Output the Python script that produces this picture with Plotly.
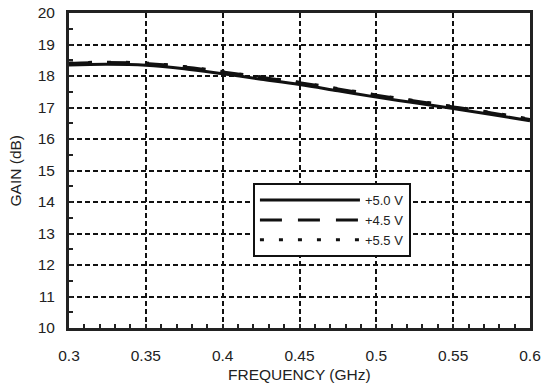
import plotly.graph_objects as go

freq = [0.30, 0.325, 0.35, 0.375, 0.40, 0.425, 0.45, 0.475, 0.50, 0.525, 0.55, 0.575, 0.60]
gain_50 = [18.35, 18.37, 18.34, 18.23, 18.07, 17.90, 17.73, 17.53, 17.33, 17.15, 16.97, 16.78, 16.58]
gain_45 = [18.40, 18.43, 18.40, 18.29, 18.13, 17.96, 17.79, 17.59, 17.39, 17.21, 17.02, 16.83, 16.62]
gain_55 = [18.41, 18.44, 18.41, 18.30, 18.14, 17.97, 17.80, 17.60, 17.40, 17.22, 17.03, 16.84, 16.63]

x_ticks = [0.3, 0.35, 0.4, 0.45, 0.5, 0.55, 0.6]
x_labels = ["0.3", "0.35", "0.4", "0.45", "0.5", "0.55", "0.6"]
y_ticks = list(range(10, 21))

fig = go.Figure()
fig.add_trace(go.Scatter(x=freq, y=gain_50, mode="lines", name="+5.0 V",
                         line=dict(color="#111", width=3, shape="spline")))
fig.add_trace(go.Scatter(x=freq, y=gain_45, mode="lines", name="+4.5 V",
                         line=dict(color="#111", width=3, dash="22px,16px", shape="spline")))
fig.add_trace(go.Scatter(x=freq, y=gain_55, mode="lines", name="+5.5 V",
                         line=dict(color="#111", width=3, dash="4px,15px", shape="spline")))

font = "Liberation Sans, Arial, sans-serif"
fig.update_layout(
    width=545, height=387,
    margin=dict(l=69, r=15, t=13, b=59, autoexpand=False),
    paper_bgcolor="white", plot_bgcolor="white",
    font=dict(family=font, color="#222", size=15.5),
    showlegend=True,
    legend=dict(x=0.399, y=0.46, xanchor="left", yanchor="top",
                bordercolor="#111", borderwidth=2, bgcolor="white",
                font=dict(size=13), itemwidth=100, tracegroupgap=0,
                ),
    xaxis=dict(range=[0.3, 0.6], tickvals=x_ticks, ticktext=x_labels,
               showgrid=True, gridcolor="#111", griddash="5px,3px", gridwidth=2,
               showline=True, linecolor="#222", linewidth=3, mirror=True,
               ticks="inside", ticklen=0, zeroline=False, automargin=False,
               minor=dict(dtick=0.01, ticks="inside", ticklen=4, tickwidth=1.5, tickcolor="#222", showgrid=False),
               ticklabelstandoff=11),
    yaxis=dict(range=[10, 20], tickvals=y_ticks,
               showgrid=True, gridcolor="#111", griddash="5px,3px", gridwidth=2,
               showline=True, linecolor="#222", linewidth=3, mirror=True,
               ticks="inside", ticklen=0, zeroline=False, automargin=False,
               minor=dict(dtick=0.5, ticks="inside", ticklen=4, tickwidth=1.5, tickcolor="#222", showgrid=False),
               ticklabelstandoff=8),
    annotations=[
        dict(text="FREQUENCY (GHz)", xref="paper", yref="paper", x=0.5, y=-0.148,
             xanchor="center", yanchor="middle", showarrow=False, font=dict(size=15.5)),
        dict(text="GAIN (dB)", xref="paper", yref="paper", x=-0.115, y=0.5,
             xanchor="center", yanchor="middle", textangle=-90, showarrow=False, font=dict(size=15.5)),
    ],
)
fig.write_html("out.html")
